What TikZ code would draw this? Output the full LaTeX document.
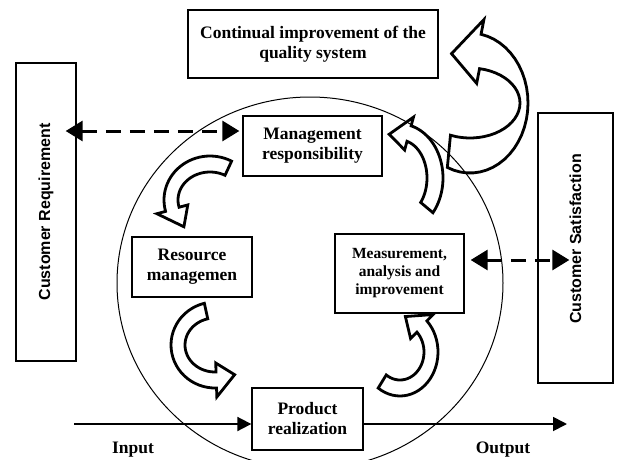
\documentclass[tikz,border=0pt]{standalone}
\usepackage{fontspec}
\usepackage{graphicx}
\setmainfont{Liberation Serif}
\setsansfont{Liberation Sans}
\usetikzlibrary{arrows.meta, positioning, calc}

\tikzset{
  stagebox/.style={rectangle, draw, line width=1.3pt, fill=white, inner sep=0pt, align=center, font=\fontsize{17.5}{20}\selectfont\bfseries},
  sidebox/.style={rectangle, draw, line width=1.3pt, fill=white, inner sep=0pt, font=\fontsize{16}{19}\selectfont\sffamily\bfseries},
  blockarrow/.style={draw, line width=2.8pt, fill=white, line join=miter},
  dasharrow/.style={line width=3pt, dash pattern=on 15pt off 9pt, {Triangle[length=17pt,width=20pt]}-{Triangle[length=17pt,width=20pt]}},
  flowarrow/.style={line width=1.8pt, -{Triangle[length=14pt,width=14pt]}}
}

% hollow bent arrow: centre, outer rx ry, inner rx ry, tail angle, head angle, tip angle, head overhang
\newcommand{\bentarrow}[9]{%
  \begin{scope}[shift={#1}]
    \draw[blockarrow] plot[domain=#6:#7, samples=30] ({#2*cos(\x)}, {#3*sin(\x)})
      -- (#7:#2+#9 and #3+#9) -- (#8:#2/2+#4/2 and #3/2+#5/2)
      -- (#7:#4-#9 and #5-#9)
      -- plot[domain=#7:#6, samples=30] ({#4*cos(\x)}, {#5*sin(\x)})
      -- cycle;
  \end{scope}}

\begin{document}
\begin{tikzpicture}[x=1pt, y=-1pt]
  \useasboundingbox (0,0) rectangle (619,459);

  % Bent arrows of the cycle
  \bentarrow{(470,103)}{58}{70}{50}{35}{113}{-79}{-110}{15}
  \bentarrow{(400,178)}{43}{54}{27}{38}{40}{-75}{-108}{9}
  \bentarrow{(210,200)}{46}{44}{32}{28}{-62}{-195}{-228}{9}
  \bentarrow{(215,345)}{44}{43}{30}{27}{-104}{-272}{-302}{9}
  \bentarrow{(400,352)}{38}{44}{24}{28}{125}{-45}{-80}{9}

  % The big circle
  \begin{scope}
    \clip (0,0) rectangle (619,459);
    \draw[line width=1pt] (310,283) ellipse [x radius=193, y radius=186];
  \end{scope}

  % Boxes
  \node[stagebox, minimum width=250, minimum height=68] (cont) at (313,44) {Continual improvement of the\\quality system};
  \node[sidebox, minimum width=60, minimum height=298] (cr) at (46,212) {\rotatebox{90}{Customer Requirement}};
  \node[sidebox, minimum width=75, minimum height=270] (cs) at (575.5,248) {\rotatebox{90}{\hspace*{18pt}Customer Satisfaction}};
  \node[stagebox, minimum width=139, minimum height=60] (mr) at (312.5,146) {Management\\responsibility};
  \node[stagebox, minimum width=120, minimum height=60] (rm) at (192,267) {Resource\\managemen};
  \node[stagebox, minimum width=129, minimum height=79, font=\fontsize{15.5}{18}\selectfont\bfseries] (ms) at (399.5,273.5) {Measurement,\\analysis and\\improvement};
  \node[stagebox, minimum width=111, minimum height=62] (pr) at (307.5,419) {Product\\realization};

  % Dashed links to the customer
  \draw[dasharrow] ([xshift=-11pt]cr.east |- 0,131) -- ([xshift=-3pt]mr.west |- 0,131);
  \draw[dasharrow] ([xshift=6pt]ms.east |- 0,260) -- ([xshift=32pt]cs.west |- 0,260);

  % Input and output
  \coordinate (in) at (74,424);
  \coordinate (out) at (567,424);
  \draw[flowarrow] (in) -- (pr.west |- in);
  \draw[flowarrow] (pr.east |- out) -- (out);
  \node[font=\fontsize{17.5}{20}\selectfont\bfseries] (inlabel) at (133,450) {Input};
  \node[font=\fontsize{17.5}{20}\selectfont\bfseries] (outlabel) at (503,450) {Output};
\end{tikzpicture}
\end{document}
